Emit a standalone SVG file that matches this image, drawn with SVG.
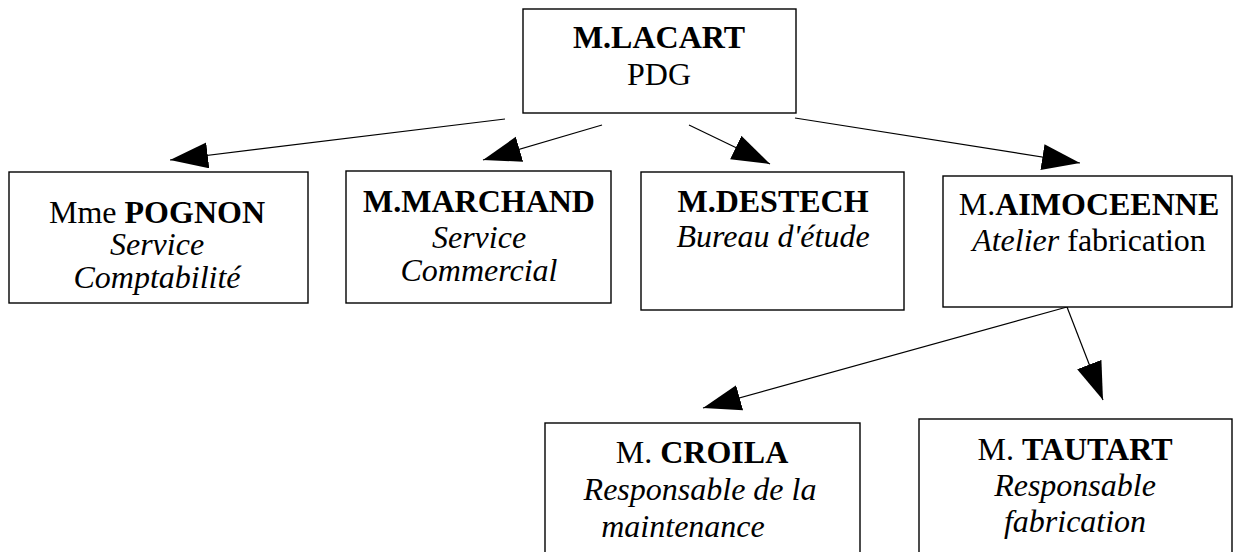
<svg xmlns="http://www.w3.org/2000/svg" width="1234" height="552" viewBox="0 0 1234 552">
<defs>
<marker id="arr" markerUnits="userSpaceOnUse" markerWidth="40" markerHeight="28" refX="38" refY="13" orient="auto">
<path d="M0,0 L38,13 L0,26 z" fill="#000"/>
</marker>
<style>
.box{fill:#fff;stroke:#000;stroke-width:1.4}
.t{font-family:"Liberation Serif","Times New Roman",serif;font-size:32px;fill:#000;text-anchor:middle}
.b{font-weight:bold}
.i{font-style:italic}
.r{font-weight:normal;font-style:normal}
.c{stroke:#000;stroke-width:1.2;fill:none;marker-end:url(#arr)}
</style>
</defs>
<rect width="1234" height="552" fill="#fff"/>
<g id="connectors">
<line class="c" x1="505" y1="119" x2="170" y2="160"/>
<line class="c" x1="602" y1="125" x2="483" y2="160"/>
<line class="c" x1="689" y1="125" x2="770" y2="164"/>
<line class="c" x1="795" y1="118" x2="1080" y2="163"/>
<line class="c" x1="1067" y1="307" x2="703" y2="408"/>
<line class="c" x1="1067" y1="307" x2="1103" y2="400"/>
</g>
<g id="lacart">
<rect class="box" x="523" y="9" width="273" height="104"/>
<text class="t b" x="659" y="48">M.LACART</text>
<text class="t" x="659" y="85">PDG</text>
</g>
<g id="pognon">
<rect class="box" x="9" y="172" width="299" height="131"/>
<text class="t" x="157" y="223">Mme <tspan class="b">POGNON</tspan></text>
<text class="t i" x="157" y="255">Service</text>
<text class="t i" x="157" y="288">Comptabilité</text>
</g>
<g id="marchand">
<rect class="box" x="346" y="171" width="265" height="132"/>
<text class="t b" x="479" y="212">M.MARCHAND</text>
<text class="t i" x="479" y="248">Service</text>
<text class="t i" x="479" y="281">Commercial</text>
</g>
<g id="destech">
<rect class="box" x="641" y="172" width="263" height="138"/>
<text class="t b" x="773" y="212">M.DESTECH</text>
<text class="t i" x="773" y="247">Bureau d'étude</text>
</g>
<g id="aimoceenne">
<rect class="box" x="943" y="176" width="289" height="131"/>
<text class="t" x="1089" y="215">M.<tspan class="b">AIMOCEENNE</tspan></text>
<text class="t" x="1089" y="251"><tspan class="i">Atelier</tspan> fabrication</text>
</g>
<g id="croila">
<rect class="box" x="545" y="423" width="315" height="140"/>
<text class="t" x="702" y="463">M. <tspan class="b">CROILA</tspan></text>
<text class="t i" x="700" y="500">Responsable de la</text>
<text class="t i" x="683" y="537">maintenance</text>
</g>
<g id="tautart">
<rect class="box" x="919" y="419" width="313" height="144"/>
<text class="t" x="1075" y="460">M. <tspan class="b">TAUTART</tspan></text>
<text class="t i" x="1075" y="496">Responsable</text>
<text class="t i" x="1075" y="532">fabrication</text>
</g>
</svg>
